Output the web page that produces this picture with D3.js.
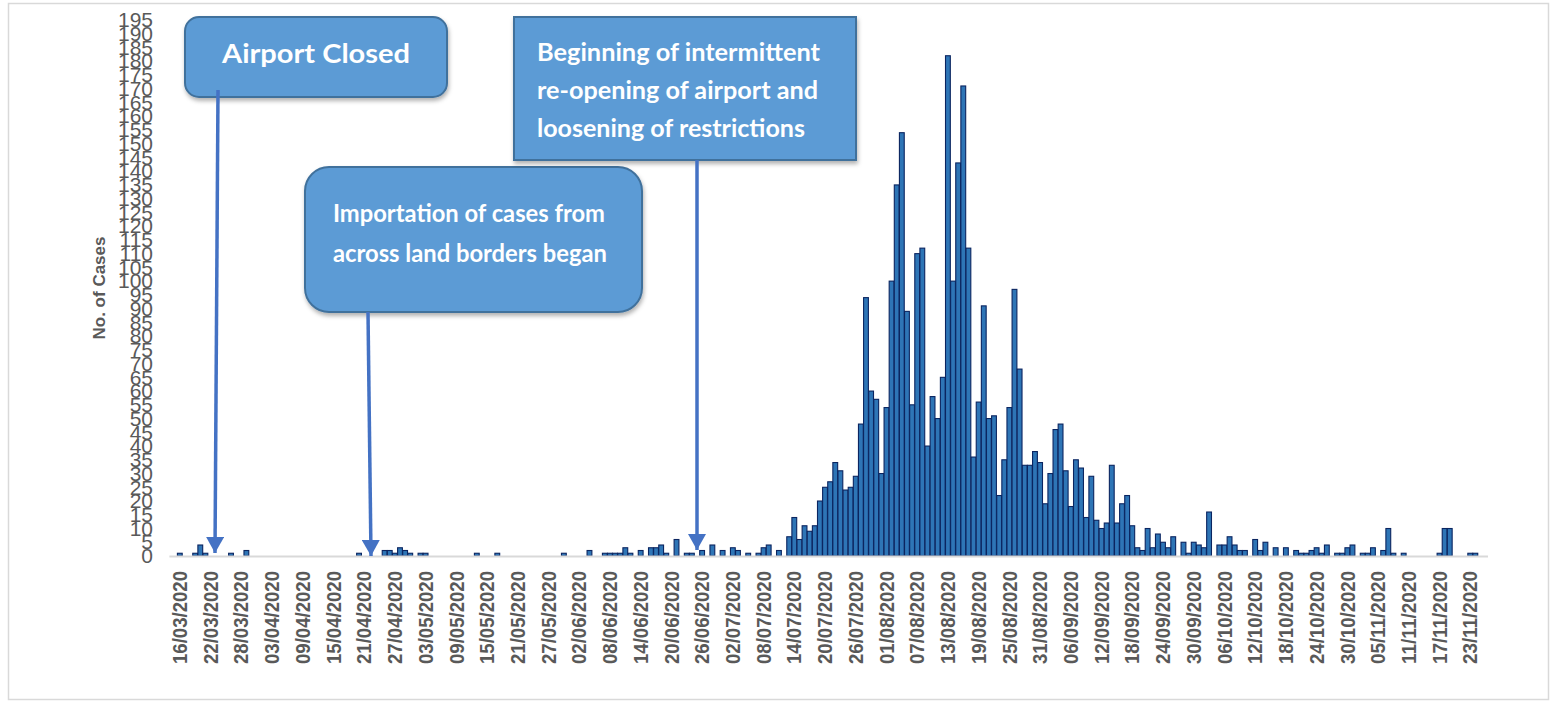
<!DOCTYPE html>
<html>
<head>
    <meta charset="utf-8">
    <style>
        body {
            margin: 0;
            background: #ffffff;
            font-family: "Liberation Sans", Arial, sans-serif;
        }
        svg { display: block; }
    </style>
    <script src="https://cdn.jsdelivr.net/npm/d3@7"></script>
</head>
<body>
<svg id="Grafico"></svg>

<script>
    // Casos diarios desde el 16/03/2020 (un valor por dia)
    const fechaInicio = "16/03/2020";
    const casos = [
        1, 0, 0, 1, 4, 1, 0, 0, 0, 0,
        1, 0, 0, 2, 0, 0, 0, 0, 0, 0,
        0, 0, 0, 0, 0, 0, 0, 0, 0, 0,
        0, 0, 0, 0, 0, 1, 0, 0, 0, 0,
        2, 2, 1, 3, 2, 1, 0, 1, 1, 0,
        0, 0, 0, 0, 0, 0, 0, 0, 1, 0,
        0, 0, 1, 0, 0, 0, 0, 0, 0, 0,
        0, 0, 0, 0, 0, 1, 0, 0, 0, 0,
        2, 0, 0, 1, 1, 1, 1, 3, 1, 0,
        2, 0, 3, 3, 4, 1, 0, 6, 0, 1,
        1, 0, 2, 0, 4, 0, 2, 0, 3, 2,
        0, 1, 0, 1, 3, 4, 0, 2, 0, 7,
        14, 6, 11, 9, 11, 20, 25, 27, 34, 31,
        24, 25, 29, 48, 94, 60, 57, 30, 54, 100,
        135, 154, 89, 55, 110, 112, 40, 58, 50, 65,
        182, 100, 143, 171, 112, 36, 56, 91, 50, 51,
        22, 35, 54, 97, 68, 33, 33, 38, 34, 19,
        30, 46, 48, 31, 18, 35, 32, 14, 29, 13,
        10, 12, 33, 12, 19, 22, 11, 3, 2, 10,
        3, 8, 5, 3, 7, 0, 5, 1, 5, 4,
        3, 16, 0, 4, 4, 7, 4, 2, 2, 0,
        6, 2, 5, 0, 3, 0, 3, 0, 2, 1,
        1, 2, 3, 1, 4, 0, 1, 1, 3, 4,
        0, 1, 1, 3, 0, 2, 10, 1, 0, 1,
        0, 0, 0, 0, 0, 0, 1, 10, 10, 0,
        0, 0, 1, 1, 0, 0
    ];

    const etiquetasEje = [
        "16/03/2020", "22/03/2020", "28/03/2020", "03/04/2020", "09/04/2020", "15/04/2020",
        "21/04/2020", "27/04/2020", "03/05/2020", "09/05/2020", "15/05/2020", "21/05/2020",
        "27/05/2020", "02/06/2020", "08/06/2020", "14/06/2020", "20/06/2020", "26/06/2020",
        "02/07/2020", "08/07/2020", "14/07/2020", "20/07/2020", "26/07/2020", "01/08/2020",
        "07/08/2020", "13/08/2020", "19/08/2020", "25/08/2020", "31/08/2020", "06/09/2020",
        "12/09/2020", "18/09/2020", "24/09/2020", "30/09/2020", "06/10/2020", "12/10/2020",
        "18/10/2020", "24/10/2020", "30/10/2020", "05/11/2020", "11/11/2020", "17/11/2020",
        "23/11/2020"
    ];

    const ticksY = [0, 5, 10, 15, 20, 25, 30, 35, 40, 45, 50, 55, 60, 65, 70, 75, 80, 85, 90, 95,
        100, 105, 110, 115, 120, 125, 130, 135, 140, 145, 150, 155, 160, 165, 170, 175, 180, 185, 190, 195];

    const tituloEjeY = "No. of Cases";

    const textosCajas = [
        ["Airport Closed"],
        ["Importation of cases from", "across land borders began"],
        ["Beginning of intermittent", "re-opening of airport and", "loosening of restrictions"]
    ];


    function configuracionGrafico() {
        let ancho = 1557;
        let alto = 708;
        let contenedor = d3.select("#Grafico")
            .attr("width", ancho)
            .attr("height", alto);

        // zona de las barras
        let cuerpo = { left: 177.4, right: 1488, top: 20, bottom: 556 };

        return { ancho, alto, contenedor, cuerpo };
    }

    function categorias() {
        let leer = d3.timeParse("%d/%m/%Y");
        let formato = d3.timeFormat("%d/%m/%Y");
        let inicio = leer(fechaInicio);
        return casos.map((c, i) => formato(d3.timeDay.offset(inicio, i)));
    }

    function escalasGrafico(fechas, configuracion) {
        let { cuerpo } = configuracion;

        let escalaX = d3.scaleBand()
            .domain(fechas)
            .range([cuerpo.left, cuerpo.right])
            .paddingInner(0.06);

        let escalaY = d3.scaleLinear()
            .domain([0, 195])
            .range([cuerpo.bottom, cuerpo.top]);

        return { escalaX, escalaY };
    }

    function dibujarMarco(configuracion) {
        configuracion.contenedor.append("rect")
            .attr("x", 8.5).attr("y", 3.5)
            .attr("width", 1540).attr("height", 696)
            .attr("fill", "none")
            .attr("stroke", "#d9d9d9")
            .attr("stroke-width", 1.5);
    }

    function dibujarBarras(datos, escalas, configuracion) {
        let { escalaX, escalaY } = escalas;
        let { contenedor, cuerpo } = configuracion;

        contenedor.append("g")
            .selectAll("rect")
            .data(datos)
            .enter().append("rect")
                .attr("x", d => escalaX(d.fecha))
                .attr("width", escalaX.bandwidth())
                .attr("y", d => escalaY(d.valor))
                .attr("height", d => cuerpo.bottom - escalaY(d.valor))
                .attr("fill", "#2E75B6")
                .attr("stroke", "#0B2560")
                .attr("stroke-width", 1.1)
                .style("display", d => d.valor > 0 ? null : "none");
    }

    function dibujarEjes(escalas, configuracion) {
        let { escalaX, escalaY } = escalas;
        let { contenedor, cuerpo } = configuracion;

        let ejeX = d3.axisBottom(escalaX)
            .tickValues(etiquetasEje)
            .tickSize(0);

        let gX = contenedor.append("g")
            .attr("transform", `translate(0,${cuerpo.bottom})`)
            .call(ejeX);

        gX.select(".domain")
            .attr("stroke", "#d9d9d9")
            .attr("stroke-width", 2)
            .attr("d", `M${cuerpo.left - 8},0.5H${cuerpo.right}`);

        gX.selectAll("text")
            .attr("transform", "rotate(-90)")
            .attr("x", -15)
            .attr("y", 0)
            .attr("dy", "0.36em")
            .attr("text-anchor", "end")
            .attr("fill", "#595959")
            .attr("font-size", 20)
            .attr("font-weight", "bold")
            .attr("font-family", "'Liberation Sans', Arial, sans-serif")
            .attr("textLength", 93)
            .attr("lengthAdjust", "spacingAndGlyphs");

        let ejeY = d3.axisLeft(escalaY)
            .tickValues(ticksY)
            .tickSize(0)
            .tickPadding(0);

        let gY = contenedor.append("g")
            .attr("transform", "translate(153,0)")
            .call(ejeY);

        gY.select(".domain").remove();
        gY.selectAll("text")
            .attr("fill", "#595959")
            .attr("font-size", 21)
            .attr("font-family", "'Liberation Sans', Arial, sans-serif");

        contenedor.append("text")
            .attr("transform", "translate(105,288) rotate(-90)")
            .attr("text-anchor", "middle")
            .attr("fill", "#595959")
            .attr("font-size", 17)
            .attr("font-weight", "bold")
            .text(tituloEjeY);
    }

    function dibujarAnotaciones(configuracion) {
        let { contenedor } = configuracion;

        let defs = contenedor.append("defs");
        defs.append("filter")
            .attr("id", "sombra")
            .attr("x", "-10%").attr("y", "-10%")
            .attr("width", "130%").attr("height", "140%")
            .append("feDropShadow")
                .attr("dx", 1).attr("dy", 3)
                .attr("stdDeviation", 2)
                .attr("flood-color", "#000000")
                .attr("flood-opacity", 0.3);

        defs.append("marker")
            .attr("id", "punta")
            .attr("markerUnits", "userSpaceOnUse")
            .attr("viewBox", "0 0 16 18")
            .attr("markerWidth", 16).attr("markerHeight", 18)
            .attr("refX", 16).attr("refY", 9)
            .attr("orient", "auto")
            .append("path")
                .attr("d", "M0,0L16,9L0,18Z")
                .attr("fill", "#4472C4");

        // posicion de cada caja y de su flecha
        let cajas = [
            { x: 185, y: 17, w: 262, h: 80, rx: 14, ancla: "middle", tx: 316,
              lineas: [63], anchos: [188], tam: 26,
              flecha: [218, 90, 215, 553] },
            { x: 305, y: 167, w: 337, h: 145, rx: 24, ancla: "start", tx: 333,
              lineas: [222, 262], anchos: [272, 274], tam: 25,
              flecha: [368, 312, 371, 556] },
            { x: 514, y: 17, w: 342, h: 143, rx: 0, ancla: "start", tx: 537,
              lineas: [61, 99, 137], anchos: [283, 281, 268], tam: 25,
              flecha: [697, 160, 697, 550] }
        ];

        cajas.forEach((c, i) => {
            let g = contenedor.append("g");
            g.append("rect")
                .attr("x", c.x).attr("y", c.y)
                .attr("width", c.w).attr("height", c.h)
                .attr("rx", c.rx)
                .attr("fill", "#5B9BD5")
                .attr("stroke", "#41719C")
                .attr("stroke-width", 2)
                .attr("filter", "url(#sombra)");

            textosCajas[i].forEach((linea, j) => {
                g.append("text")
                    .attr("x", c.tx)
                    .attr("y", c.lineas[j])
                    .attr("text-anchor", c.ancla)
                    .attr("fill", "#ffffff")
                    .attr("font-size", c.tam)
                    .attr("font-weight", "bold")
                    .attr("font-family", "Lato, 'Open Sans', sans-serif")
                    .attr("textLength", c.anchos[j])
                    .attr("lengthAdjust", "spacingAndGlyphs")
                    .text(linea);
            });

            let f = c.flecha;
            contenedor.append("line")
                .attr("x1", f[0]).attr("y1", f[1])
                .attr("x2", f[2]).attr("y2", f[3])
                .attr("stroke", "#4472C4")
                .attr("stroke-width", 3.5)
                .attr("marker-end", "url(#punta)");
        });
    }

    function mostrarGrafico() {
        let configuracion = configuracionGrafico();
        let fechas = categorias();
        let datos = casos.map((v, i) => ({ fecha: fechas[i], valor: v }));
        let escalas = escalasGrafico(fechas, configuracion);

        dibujarMarco(configuracion);
        dibujarBarras(datos, escalas, configuracion);
        dibujarEjes(escalas, configuracion);
        dibujarAnotaciones(configuracion);
    }

    mostrarGrafico();
</script>
</body>
</html>
